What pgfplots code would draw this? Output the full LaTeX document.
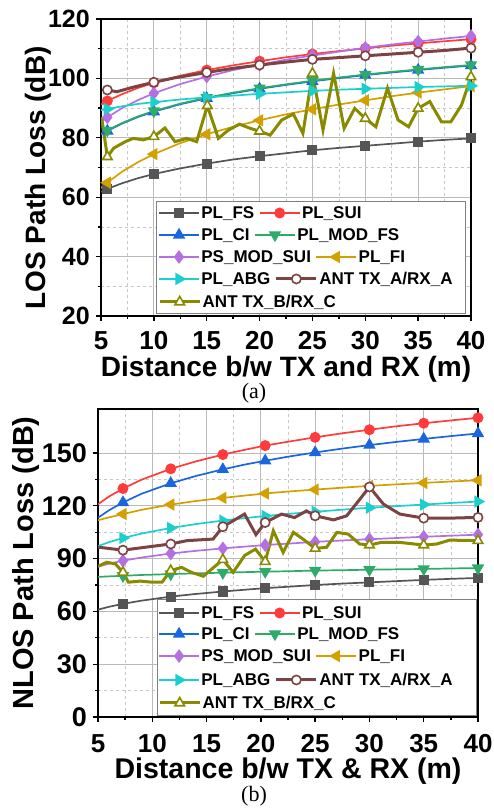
\documentclass[border=0pt]{standalone}
\usepackage{pgfplots}
\pgfplotsset{compat=1.18}
\usepackage{fontspec}
\setmainfont{Liberation Sans}
\newfontfamily\serifpaper{Liberation Serif}
\definecolor{fsgray}{HTML}{555555}
\definecolor{suired}{HTML}{FF3B3B}
\definecolor{ciblue}{HTML}{1A66E0}
\definecolor{modfsgreen}{HTML}{2EAA6A}
\definecolor{modsuipurple}{HTML}{B470E0}
\definecolor{figold}{HTML}{D4A000}
\definecolor{abgcyan}{HTML}{1CCFCF}
\definecolor{antbrown}{HTML}{7D4343}
\definecolor{antolive}{HTML}{8A8A00}
\pgfplotsset{
  legend image code/.code={\draw[#1, mark indices={2}] plot coordinates {(0pt,0pt) (20pt,0pt) (40pt,0pt)};},
  thinl/.style={line width=1.7pt, mark options={solid}},
  thickl/.style={line width=3pt, mark options={solid, fill=white, line width=1.6pt}},
  fsS/.style={thinl, color=fsgray, mark=square*, mark size=4.2pt},
  suiS/.style={thinl, color=suired, mark=*, mark size=4.6pt},
  ciS/.style={thinl, color=ciblue, mark=triangle*, mark size=5.5pt},
  mfsS/.style={thinl, color=modfsgreen, mark=triangle*, mark size=5.5pt, mark options={rotate=180}},
  msuiS/.style={thinl, color=modsuipurple, mark=diamond*, mark size=5.5pt},
  fiS/.style={thinl, color=figold, mark=triangle*, mark size=5.5pt, mark options={rotate=90}},
  abgS/.style={thinl, color=abgcyan, mark=triangle*, mark size=5.5pt, mark options={rotate=-90}},
  antaS/.style={thickl, color=antbrown, mark=*, mark size=4.6pt},
  antbS/.style={thickl, color=antolive, mark=triangle*, mark size=5.5pt},
  base/.style={
    scale only axis,
    xmin=5, xmax=40, xtick={5,10,...,40},
    minor x tick num=1,
    tick pos=left, tick align=outside,
    major tick length=5pt, minor tick length=3pt,
    grid=both,
    major grid style={draw=black!27, line width=0.9pt},
    minor grid style={draw=black!22, dashed, line width=0.7pt},
    axis line style={line width=1.6pt},
    tick style={black, line width=1.3pt},
    /pgf/number format/assume math mode=true,
  },
  legrow/.style 2 args={
    at={(0pt,0pt)}, anchor=south west, scale only axis,
    width=493pt, height=810pt, hide axis,
    xmin=0, xmax=1, ymin=0, ymax=1,
    legend columns=2,
    legend style={at={(#1,#2)}, anchor=west, draw=none, fill=none, inner sep=0pt,
      font=\fontsize{17}{17}\selectfont\bfseries,
      nodes={inner sep=1.5pt},
      /tikz/every even column/.append style={column sep=3pt}},
  },
}
\begin{document}
\begin{tikzpicture}
\useasboundingbox (0,0) rectangle (493pt,810pt);
% ---------------- (a) LOS ----------------
\begin{axis}[base,
  at={(101pt,494pt)}, anchor=south west, width=370pt, height=297pt,
  ymin=20, ymax=120, ytick={20,40,...,120}, minor y tick num=1,
  xticklabel style={font=\fontsize{26}{26}\selectfont\bfseries, anchor=base, inner sep=0pt, yshift=-29pt},
  yticklabel style={font=\fontsize{25}{25}\selectfont\bfseries, anchor=east, inner sep=0pt, xshift=-6pt},
  xlabel={Distance b/w TX and RX (m)},
  ylabel={LOS Path Loss (dB)},
  xlabel style={font=\fontsize{28}{28}\selectfont\bfseries, at={(axis description cs:0.5,-0.2036)}, anchor=base},
  ylabel style={font=\fontsize{28}{28}\selectfont\bfseries, at={(axis description cs:-0.151,0.465)}, anchor=base},
]
\addplot[fsS, mark indices={2,5,7,9,11,13,15,17}] coordinates {
(5,61.8) (5.6,62.8) (7,64.7) (8.5,66.4) (10,67.8) (12.5,69.7) (15,71.3) (17.5,72.7) (20,73.8) (22.5,74.8) (25,75.8) (27.5,76.6) (30,77.3) (32.5,78.0) (35,78.7) (37.5,79.3) (40,79.8)};
\addplot[suiS, mark indices={2,5,7,9,11,13,15,17}] coordinates {
(5,91.2) (5.6,92.4) (7,94.7) (8.5,96.8) (10,98.5) (12.5,100.9) (15,102.8) (17.5,104.4) (20,105.8) (22.5,107.1) (25,108.2) (27.5,109.2) (30,110.1) (32.5,111.0) (35,111.8) (37.5,112.5) (40,113.2)};
\addplot[ciS, mark indices={2,5,7,9,11,13,15,17}] coordinates {
(5,81.1) (5.6,82.3) (7,84.8) (8.5,87.0) (10,88.8) (12.5,91.3) (15,93.3) (17.5,95.0) (20,96.5) (22.5,97.8) (25,99.0) (27.5,100.1) (30,101.1) (32.5,102.0) (35,102.8) (37.5,103.6) (40,104.3)};
\addplot[mfsS, mark indices={2,5,7,9,11,13,15,17}] coordinates {
(5,81.3) (5.6,82.5) (7,85.0) (8.5,87.2) (10,89.0) (12.5,91.5) (15,93.5) (17.5,95.2) (20,96.7) (22.5,98.0) (25,99.2) (27.5,100.3) (30,101.3) (32.5,102.2) (35,103.0) (37.5,103.8) (40,104.5)};
\addplot[msuiS, mark indices={2,5,7,9,11,13,15,17}] coordinates {
(5,85.4) (5.6,86.9) (7,90.0) (8.5,92.7) (10,95.0) (12.5,98.1) (15,100.6) (17.5,102.8) (20,104.6) (22.5,106.3) (25,107.7) (27.5,109.0) (30,110.3) (32.5,111.4) (35,112.4) (37.5,113.4) (40,114.3)};
\addplot[fiS, mark indices={2,5,7,9,11,13,15,17}] coordinates {
(5,63.1) (5.6,64.9) (7,68.6) (8.5,71.8) (10,74.5) (12.5,78.2) (15,81.2) (17.5,83.7) (20,85.9) (22.5,87.9) (25,89.6) (27.5,91.2) (30,92.6) (32.5,94.0) (35,95.2) (37.5,96.3) (40,97.4)};
\addplot[abgS, mark indices={2,5,7,9,11,13,15,17}] coordinates {
(5,89.3) (5.6,89.7) (7,90.6) (8.5,91.4) (10,92.0) (12.5,92.9) (15,93.6) (17.5,94.2) (20,94.8) (22.5,95.3) (25,95.8) (27.5,96.2) (30,96.5) (32.5,96.8) (35,97.1) (37.5,97.3) (40,97.5)};
\addplot[antaS, mark indices={1,4,6,8,10,12,14,16}] coordinates {
(5.6,96.1) (6.5,95.5) (8,97.0) (10,98.7) (12,100.2) (15,102.0) (17.5,103.4) (20,104.5) (22.5,105.5) (25,106.4) (27.5,107.0) (30,107.6) (32.5,108.2) (35,108.8) (37.5,109.4) (40,110.2)};
\addplot[antbS, mark indices={2,7,12,17,22,27,32,37}] coordinates {
(5.05,87) (5.6,73.6) (6.2,76.5) (7.3,78.7) (8.05,79.8) (9,79.3) (10,80.4) (11.05,83.3) (12,78.7) (13.1,79.8) (14.05,78.7) (15.06,90.8) (16.1,79.8) (17.05,82.6) (18.1,84.6) (19.1,83.2) (20,82.2) (21,80.9) (22.1,86) (23.2,88) (24.1,81.5) (25,101.7) (26,82.6) (27,101.7) (28,83.2) (29,89.9) (30,86.5) (31,83.7) (32.1,96.7) (33.1,86) (34.1,83.7) (35,89.9) (36.1,92.2) (37.2,85.4) (38.1,85.4) (39.1,91) (40,100.5)};
\draw[draw=black!50, line width=0.8pt, fill=white] (rel axis cs:0.151,0.0101) rectangle (rel axis cs:0.984,0.387);
\end{axis}
\node[font=\serifpaper\fontsize{22}{22}\selectfont] at (254pt,417pt) {(a)};
% legend rows (a)
\begin{axis}[legrow={0.3205}{0.7370}]
\addlegendimage{fsS}\addlegendentry{PL\_FS}
\addlegendimage{suiS}\addlegendentry{PL\_SUI}
\end{axis}
\begin{axis}[legrow={0.3205}{0.7099}]
\addlegendimage{ciS}\addlegendentry{PL\_CI}
\addlegendimage{mfsS}\addlegendentry{PL\_MOD\_FS}
\end{axis}
\begin{axis}[legrow={0.3205}{0.6827}]
\addlegendimage{msuiS}\addlegendentry{PS\_MOD\_SUI}
\addlegendimage{fiS}\addlegendentry{PL\_FI}
\end{axis}
\begin{axis}[legrow={0.3205}{0.6556}]
\addlegendimage{abgS}\addlegendentry{PL\_ABG}
\addlegendimage{antaS}\addlegendentry{ANT TX\_A/RX\_A}
\end{axis}
\begin{axis}[legrow={0.3205}{0.6272}, legend columns=1]
\addlegendimage{antbS}\addlegendentry{ANT TX\_B/RX\_C}
\end{axis}
% ---------------- (b) NLOS ----------------
\begin{axis}[base,
  at={(98pt,93pt)}, anchor=south west, width=380pt, height=308pt,
  ymin=0, ymax=175, ytick={0,30,...,150}, minor y tick num=1,
  xticklabel style={font=\fontsize{26}{26}\selectfont\bfseries, anchor=base, inner sep=0pt, yshift=-31pt},
  yticklabel style={font=\fontsize{27}{27}\selectfont\bfseries, anchor=east, inner sep=0pt, xshift=-6pt},
  xlabel={Distance b/w TX \& RX (m)},
  ylabel={NLOS Path Loss (dB)},
  xlabel style={font=\fontsize{28.5}{28.5}\selectfont\bfseries, at={(axis description cs:0.5,-0.2)}, anchor=base},
  ylabel style={font=\fontsize{29}{29}\selectfont\bfseries, at={(axis description cs:-0.171,0.5)}, anchor=base},
]
\addplot[fsS, mark indices={3,5,7,9,11,13,15,17}] coordinates {
(5,61.0) (6,62.6) (7.3,64.3) (9,66.1) (11.7,68.4) (14,69.9) (16.5,71.3) (18.5,72.3) (20.4,73.2) (22.5,74.0) (25,75.0) (27.5,75.8) (30,76.5) (32.5,77.2) (35,77.9) (37.5,78.5) (40,79.0)};
\addplot[suiS, mark indices={3,5,7,9,11,13,15,17}] coordinates {
(5,120.9) (6,125.2) (7.3,129.8) (9,134.8) (11.7,141.0) (14,145.2) (16.5,149.1) (18.5,151.8) (20.4,154.2) (22.5,156.4) (25,158.9) (27.5,161.2) (30,163.2) (32.5,165.2) (35,166.9) (37.5,168.5) (40,170.0)};
\addplot[ciS, mark indices={3,5,7,9,11,13,15,17}] coordinates {
(5,113.2) (6,117.4) (7.3,121.9) (9,126.8) (11.7,132.8) (14,136.9) (16.5,140.7) (18.5,143.4) (20.4,145.6) (22.5,147.9) (25,150.3) (27.5,152.5) (30,154.5) (32.5,156.3) (35,158.0) (37.5,159.6) (40,161.1)};
\addplot[mfsS, mark indices={3,5,7,9,11,13,15,17}] coordinates {
(5,79.6) (6,79.9) (7.3,80.2) (9,80.7) (11.7,81.2) (14,81.6) (16.5,82.0) (18.5,82.3) (20.4,82.6) (22.5,82.8) (25,83.2) (27.5,83.4) (30,83.7) (32.5,83.9) (35,84.1) (37.5,84.4) (40,84.6)};
\addplot[msuiS, mark indices={3,5,7,9,11,13,15,17}] coordinates {
(5,85.5) (6,87.1) (7.3,88.8) (9,90.6) (11.7,92.9) (14,94.4) (16.5,95.8) (18.5,96.8) (20.4,97.7) (22.5,98.5) (25,99.5) (27.5,100.3) (30,101.0) (32.5,101.7) (35,102.4) (37.5,103.0) (40,103.6)};
\addplot[fiS, mark indices={3,5,7,9,11,13,15,17}] coordinates {
(5,111.8) (6,113.4) (7.3,115.3) (9,117.7) (11.7,120.7) (14,122.7) (16.5,124.5) (18.5,125.8) (20.4,127.0) (22.5,128.1) (25,129.2) (27.5,130.3) (30,131.3) (32.5,132.2) (35,133.0) (37.5,133.8) (40,134.5)};
\addplot[abgS, mark indices={3,5,7,9,11,13,15,17}] coordinates {
(5,97.1) (6,99.3) (7.3,101.7) (9,104.2) (11.7,107.4) (14,109.6) (16.5,111.6) (18.5,113.0) (20.4,114.2) (22.5,115.4) (25,116.6) (27.5,117.8) (30,118.9) (32.5,119.8) (35,120.7) (37.5,121.6) (40,122.4)};
\addplot[antaS, mark indices={2,4,7,10,14,18,21,23}] coordinates {
(5,96.5) (7.3,94.8) (9.8,96.8) (11.7,98.3) (13.2,100.2) (15.6,101.1) (16.5,108.1) (18.5,115.3) (19.55,103.6) (20.4,110.5) (21.9,115.3) (23.1,113.3) (24.2,117.1) (25,114.3) (26.7,112) (27.9,114.3) (29,122.8) (30,130.7) (31.3,120.9) (32.8,115.3) (35,113) (37.5,113) (40,113.4)};
\addplot[antbS, mark indices={4,9,13,17,22,27,30,33}] coordinates {
(5,85.6) (5.8,87.9) (6.6,87) (7.3,82.2) (7.8,76.6) (8.9,77.2) (9.95,76.6) (10.9,76.6) (11.7,83.2) (12.7,85) (13.6,82.2) (14.7,80) (16.5,89.4) (17.45,82.2) (18.5,91.7) (19.5,95.4) (20.4,88.3) (21.15,105.8) (22.05,93.5) (23,104.9) (23.9,101) (25,95.8) (26.05,96.4) (27,104.9) (28.05,103.9) (29.1,98.3) (30,97.7) (31.1,99.2) (32.8,99.2) (35,97.7) (36.2,98.3) (37.4,100.5) (40,100.2)};
\draw[draw=black!50, line width=0.8pt, fill=white] (rel axis cs:0.155,0.004) rectangle (rel axis cs:0.997,0.383);
\end{axis}
\node[font=\serifpaper\fontsize{22}{22}\selectfont] at (254pt,14pt) {(b)};
% legend rows (b)
\begin{axis}[legrow={0.3205}{0.2432}]
\addlegendimage{fsS}\addlegendentry{PL\_FS}
\addlegendimage{suiS}\addlegendentry{PL\_SUI}
\end{axis}
\begin{axis}[legrow={0.3205}{0.2173}]
\addlegendimage{ciS}\addlegendentry{PL\_CI}
\addlegendimage{mfsS}\addlegendentry{PL\_MOD\_FS}
\end{axis}
\begin{axis}[legrow={0.3205}{0.1901}]
\addlegendimage{msuiS}\addlegendentry{PS\_MOD\_SUI}
\addlegendimage{fiS}\addlegendentry{PL\_FI}
\end{axis}
\begin{axis}[legrow={0.3205}{0.1605}]
\addlegendimage{abgS}\addlegendentry{PL\_ABG}
\addlegendimage{antaS}\addlegendentry{ANT TX\_A/RX\_A}
\end{axis}
\begin{axis}[legrow={0.3205}{0.1321}, legend columns=1]
\addlegendimage{antbS}\addlegendentry{ANT TX\_B/RX\_C}
\end{axis}
\end{tikzpicture}
\end{document}
